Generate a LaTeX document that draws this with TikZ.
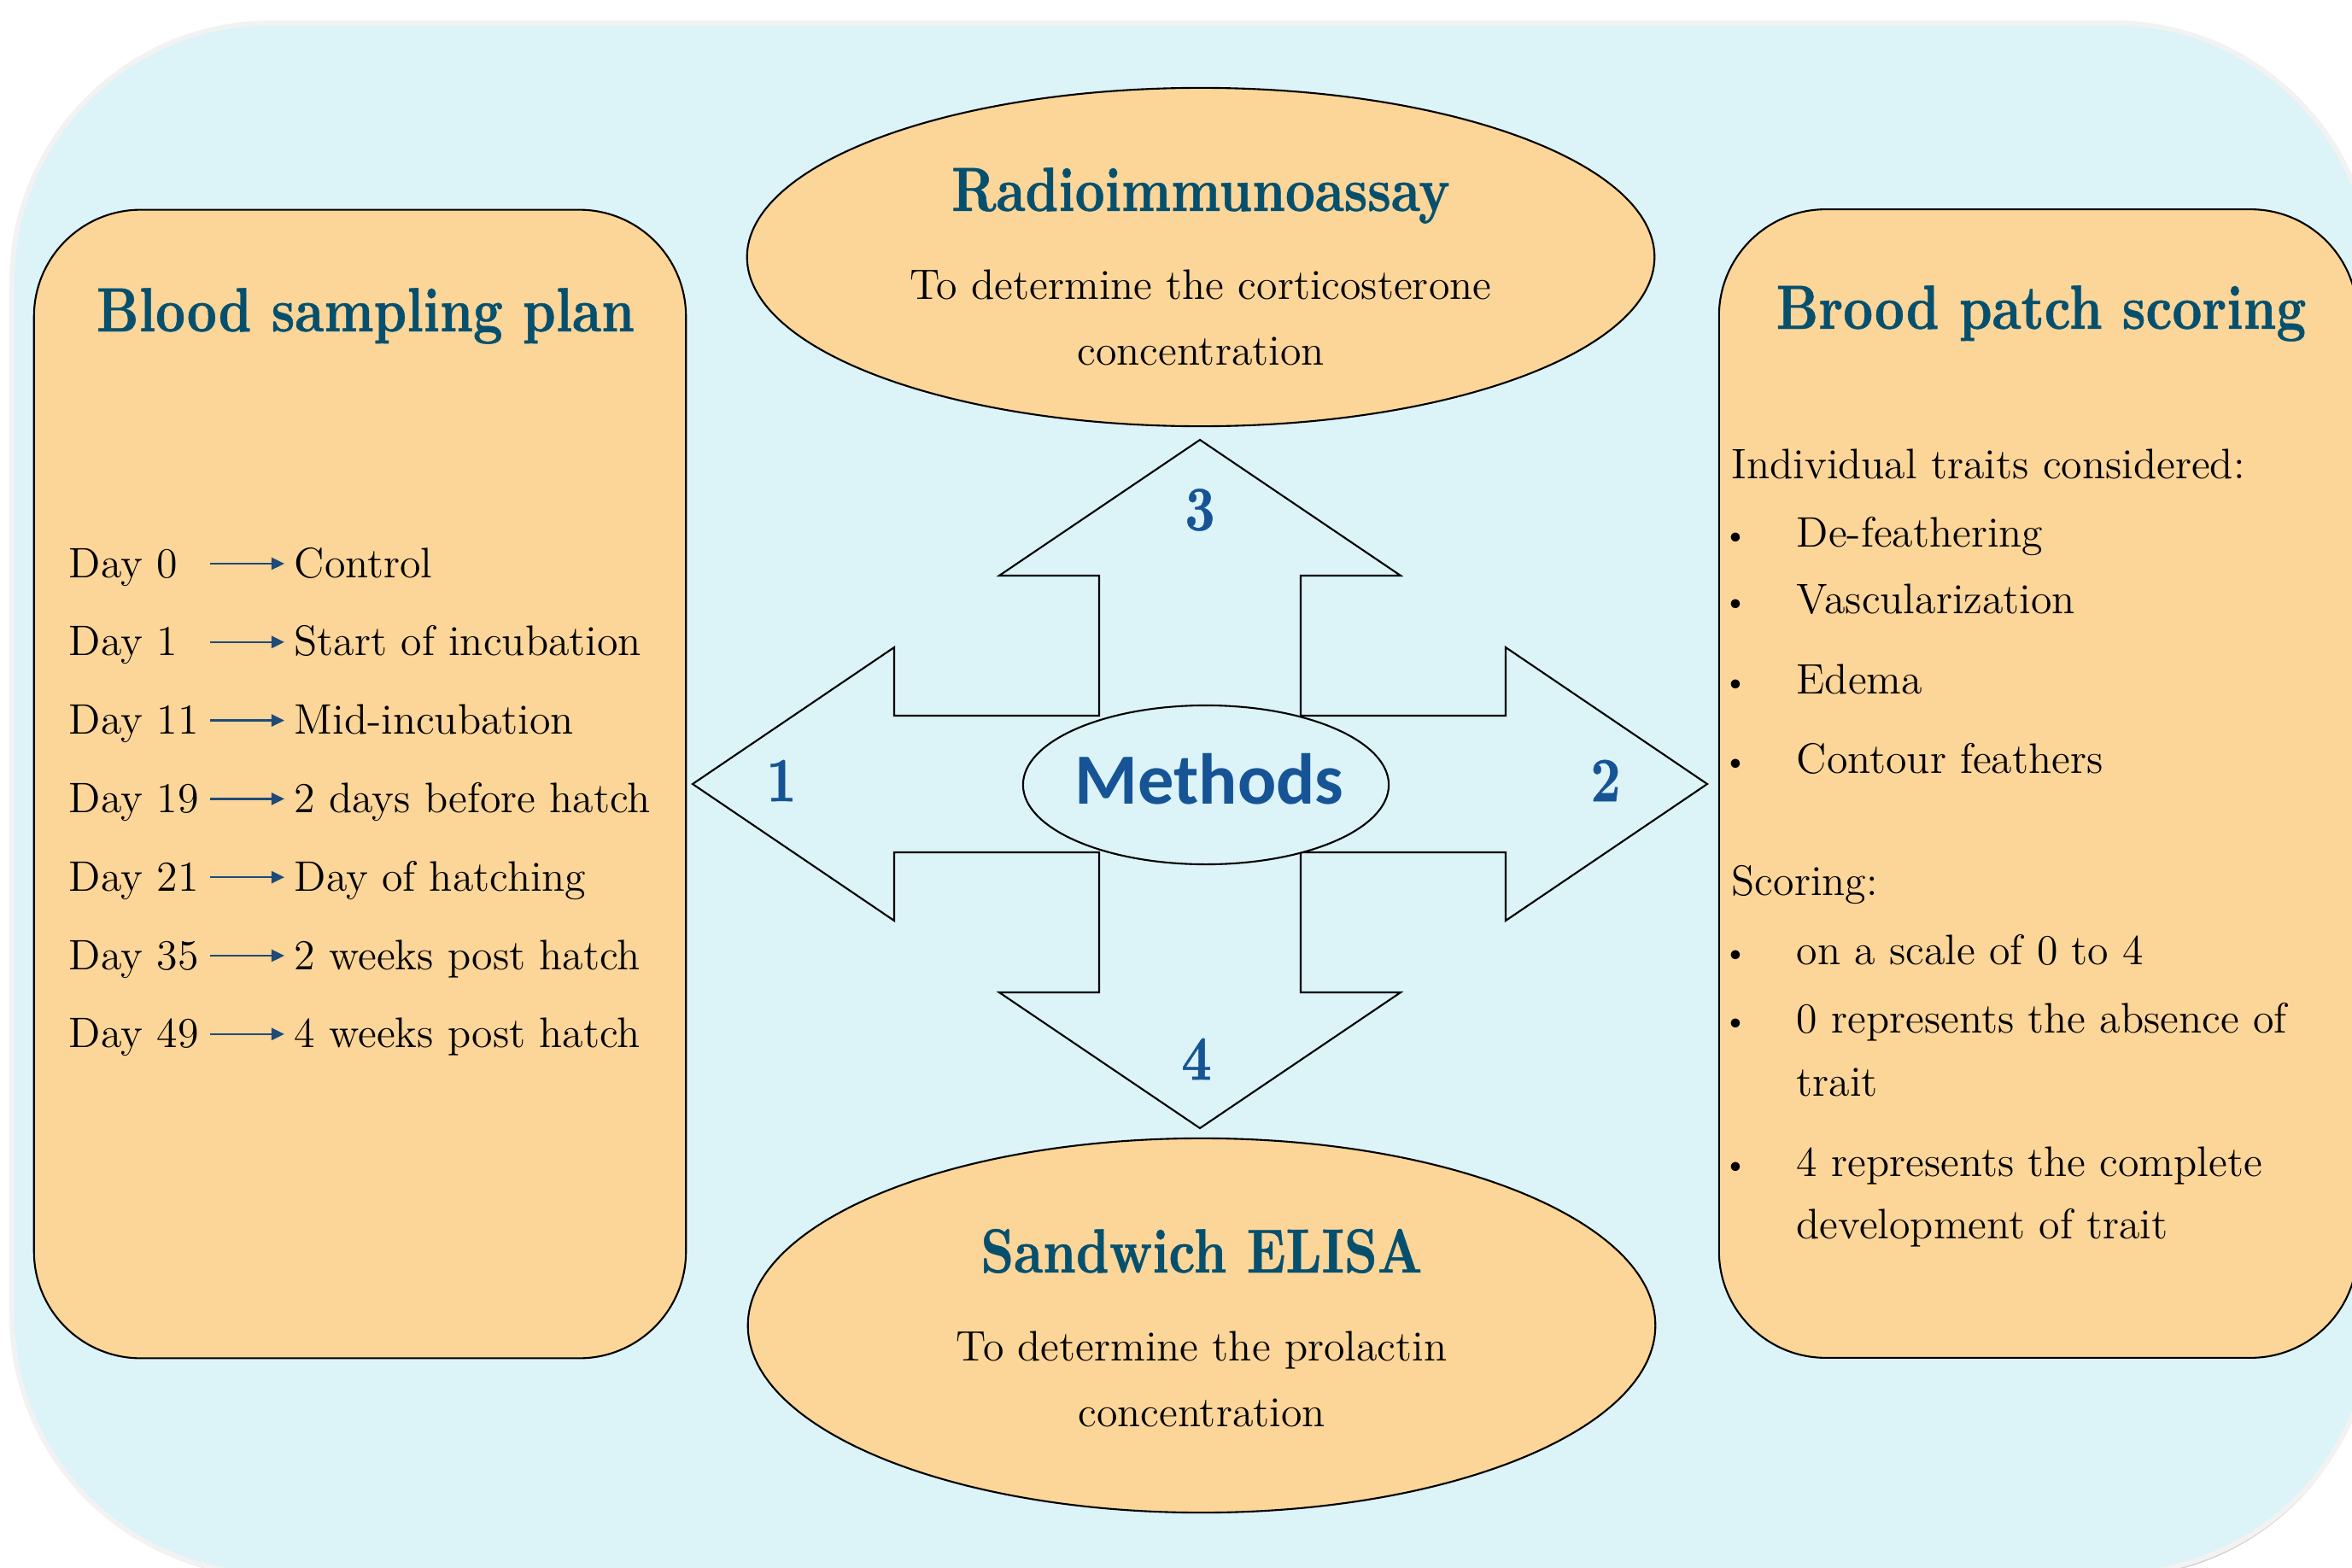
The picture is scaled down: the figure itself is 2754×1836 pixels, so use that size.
\documentclass[tikz,border=0pt]{standalone}
\usepackage{fontspec}
\newfontfamily\headfont{lmroman10-bold.otf}[FakeStretch=0.83, FakeBold=0.6]
\newfontfamily\methfont{Carlito}
\usetikzlibrary{shapes.geometric, arrows.meta, positioning}
\definecolor{paneblue}{RGB}{220,243,248}
\definecolor{panepeach}{RGB}{252,213,153}
\definecolor{headteal}{RGB}{6,80,110}
\definecolor{methblue}{RGB}{22,84,150}
\definecolor{linkblue}{RGB}{30,75,120}
\tikzset{
  % Side panels (parameterized by width)
  sidebox/.style={
    rectangle, rounded corners=1.25cm, minimum width=#1, minimum height=13.44cm,
    draw=black, line width=0.6pt, fill=panepeach, inner sep=0pt
  },
  % Assay ellipses (parameterized by height)
  assay/.style={
    ellipse, minimum width=10.62cm, minimum height=#1,
    draw=black, line width=0.6pt, fill=panepeach, inner sep=0pt
  },
  hub/.style={ellipse, minimum width=4.28cm, minimum height=1.86cm,
    draw=black, line width=0.6pt, fill=paneblue, inner sep=0pt},
  hubtext/.style={font=\methfont\bfseries\fontsize{24}{28}\selectfont, text=methblue, inner sep=0pt},
  crossarrow/.style={draw=black, line width=0.6pt, fill=paneblue, line join=miter},
  numlabel/.style={font=\headfont\fontsize{21}{25}\selectfont, text=methblue, inner sep=0pt},
  boxtitle/.style={font=\headfont\fontsize{20.8}{25}\selectfont, text=headteal, inner sep=0pt, anchor=base},
  bodytext/.style={font=\fontsize{14.2}{17}\selectfont, inner sep=0pt, anchor=base},
  % Sampling plan rows
  daylabel/.style={bodytext, anchor=base west, text width=1.64cm, align=left,
    text height=0.44cm, text depth=0.12cm},
  eventlabel/.style={bodytext, anchor=base west, text height=0.44cm, text depth=0.12cm},
  dayarrow/.style={-{Triangle[length=0.15cm, width=0.14cm]}, linkblue, line width=0.7pt, shorten >=0.11cm},
  listline/.style={bodytext, anchor=base west},
  listdot/.style={font=\fontsize{7}{8}\selectfont, inner sep=0pt}
}
\begin{document}
\begin{tikzpicture}[x=0.01cm, y=-0.01cm]
  \useasboundingbox (0,0) rectangle (2754,1836);
  \clip (0,0) rectangle (2754,1836);

  % Backdrop
  \fill[gray!40, rounded corners=3cm] (19,37) rectangle (2777,1847);
  \draw[gray!10, line width=0.12cm, rounded corners=3cm] (17,30) rectangle (2775,1840);
  \fill[paneblue, rounded corners=3cm] (17,30) rectangle (2775,1840);

  % Side panels
  \node[sidebox=7.63cm] (plan) at (421.5,918) {};
  \node[sidebox=7.47cm] (brood) at (2386.5,917.5) {};

  % Assay ellipses
  \node[assay=3.96cm] (ria) at (1406,301) {};
  \node[assay=4.38cm] (elisa) at (1407,1552) {};

  % Four-way arrow
  \begin{scope}[shift={(1405,918)}]
    \draw[crossarrow] (-358,-160) -- (-358,-80) -- (-118,-80) -- (-118,-244) -- (-235,-244)
      -- (0,-403) -- (235,-244) -- (118,-244) -- (118,-80) -- (358,-80) -- (358,-160)
      -- (594,0) -- (358,160) -- (358,80) -- (118,80) -- (118,244) -- (235,244)
      -- (0,403) -- (-235,244) -- (-118,244) -- (-118,80) -- (-358,80) -- (-358,160)
      -- (-594,0) -- cycle;
  \end{scope}
  \node[hub] (hub) at (1412,919) {};
  \node[hubtext] (hubtxt) at (1416,912) {Methods};
  \foreach \n/\x/\y in {1/915/914, 2/1880/914, 3/1405/597, 4/1401/1240}
    \node[numlabel] (num\n) at (\x,\y) {\n};

  % Ellipse texts
  \node[boxtitle] (riatitle) at (1406,247) {Radioimmunoassay};
  \node[bodytext] (riatext1) at (1406,350) {To determine the corticosterone};
  \node[bodytext] (riatext2) at (1406,427) {concentration};
  \node[boxtitle] (elisatitle) at (1407,1490) {Sandwich ELISA};
  \node[bodytext] (elisatext1) at (1407,1593) {To determine the prolactin};
  \node[bodytext] (elisatext2) at (1407,1670) {concentration};

  % Blood sampling plan
  \node[boxtitle] (plantitle) at (428,388) {Blood sampling plan};
  \foreach \d/\ev [count=\i from 0] in {0/Control, 1/Start of incubation, 11/Mid-incubation,
      19/2 days before hatch, 21/Day of hatching, 35/2 weeks post hatch, 49/4 weeks post hatch} {
    \node[daylabel] (d\i) at (80,{676+\i*91.8}) {Day \d};
    \node[eventlabel] (e\i) at (344,{676+\i*91.8}) {\ev};
    \draw[dayarrow] (d\i.east) -- (e\i.west);
  }

  % Brood patch scoring
  \node[boxtitle] (broodtitle) at (2390,385) {Brood patch scoring};
  \foreach \yb/\xb/\txt [count=\i] in {560/2027/Individual traits considered:,
      640/2103/De-feathering, 718/2103/Vascularization, 812/2103/Edema,
      905/2103/Contour feathers, 1048/2027/Scoring:, 1129/2103/on a scale of 0 to 4,
      1209/2103/0 represents the absence of, 1283/2103/trait,
      1377/2103/4 represents the complete, 1450/2103/development of trait}
    \node[listline] (li\i) at (\xb,\yb) {\txt};
  \foreach \yb [count=\i] in {640, 718, 812, 905, 1129, 1209, 1377}
    \node[listdot] (dot\i) at (2032,\yb-10) {$\bullet$};
\end{tikzpicture}
\end{document}
